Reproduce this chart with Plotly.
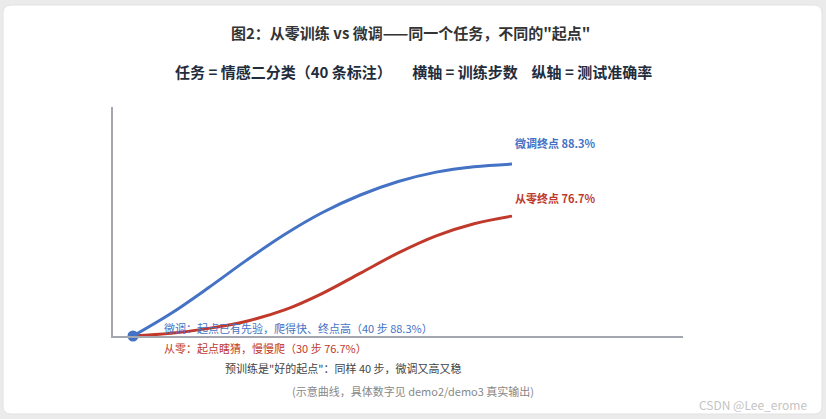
import plotly.graph_objects as go

# --- DATA ---
steps = [0, 4, 8, 12, 16, 20, 24, 28, 32, 36, 40]
acc_finetune = [50.0, 55.0, 60.8, 66.9, 72.6, 77.5, 81.4, 84.4, 86.5, 87.7, 88.3]
acc_scratch = [50.0, 50.6, 51.7, 53.3, 55.8, 59.5, 64.0, 68.5, 72.3, 75.0, 76.7]

BLUE = "#4472C4"
RED = "#C0392B"
AXIS = "#A3A6AE"
FONT = "Noto Sans CJK SC"

W, H = 826, 419
L, R, T, B = 113, 143, 107, 83
PW, PH = W - L - R, H - T - B


def px(x):
    return (x - L) / PW


def py(y):
    return (H - B - y) / PH


fig = go.Figure()

fig.add_trace(go.Scatter(x=steps, y=acc_scratch, mode="lines", cliponaxis=False,
                         line=dict(color=RED, width=3, shape="spline", smoothing=1.0), hoverinfo="skip"))
fig.add_trace(go.Scatter(x=steps, y=acc_finetune, mode="lines", cliponaxis=False,
                         line=dict(color=BLUE, width=3, shape="spline", smoothing=1.0), hoverinfo="skip"))
fig.add_trace(go.Scatter(x=[steps[0]], y=[acc_finetune[0]], mode="markers", cliponaxis=False,
                         marker=dict(color=BLUE, size=11), hoverinfo="skip"))

# white rounded card on grey page
x0, x1, y0, y1 = px(3), px(822), py(414), py(5)
rx, ry = 8 / PW, 8 / PH
card = (f"M {x0 + rx} {y1} L {x1 - rx} {y1} Q {x1} {y1} {x1} {y1 - ry} "
        f"L {x1} {y0 + ry} Q {x1} {y0} {x1 - rx} {y0} "
        f"L {x0 + rx} {y0} Q {x0} {y0} {x0} {y0 + ry} "
        f"L {x0} {y1 - ry} Q {x0} {y1} {x0 + rx} {y1} Z")
fig.add_shape(type="path", path=card, xref="paper", yref="paper", fillcolor="white",
              line=dict(color="#e2e2e2", width=1), layer="below")


def note(text, x, y, size=11, color="#333", bold=False, anchor="left"):
    if bold:
        text = f"<b>{text}</b>"
    fig.add_annotation(text=text, x=px(x), y=py(y), xref="paper", yref="paper", showarrow=False,
                       xanchor=anchor, yanchor="middle", font=dict(family=FONT, size=size, color=color))


note("图2：从零训练 vs 微调——同一个任务，不同的\"起点\"", 410, 32, size=15, color="#333", bold=True, anchor="center")
sp = "\u00a0"
note(f"任务 = 情感二分类（40 条标注）{sp * 6}横轴 = 训练步数{sp * 4}纵轴 = 测试准确率", 413, 71, size=15,
     color="#1f2d3d", bold=True, anchor="center")
note("微调终点 88.3%", 513, 143, color=BLUE, bold=True)
note("从零终点 76.7%", 513, 198, color=RED, bold=True)
note("微调：起点已有先验，爬得快、终点高（40 步 88.3%）", 162, 328, color=BLUE)
note("从零：起点瞎猜，慢慢爬（30 步 76.7%）", 162, 348, color=RED)
note("预训练是\"好的起点\"：同样 40 步，微调又高又稳", 343, 368, color="#444", anchor="center")
note("(示意曲线，具体数字见 demo2/demo3 真实输出)", 413, 391, color="#888", anchor="center")
note("CSDN @Lee_erome", 809, 404, size=12, color="#c4c4c4", anchor="right")

fig.update_xaxes(range=[-2.11, 58.05], showgrid=False, zeroline=False, showticklabels=False, ticks="",
                 showline=True, linecolor=AXIS, linewidth=2)
fig.update_yaxes(range=[50, 101], showgrid=False, zeroline=False, showticklabels=False, ticks="",
                 showline=True, linecolor=AXIS, linewidth=2)
fig.update_layout(width=W, height=H, margin=dict(l=L, r=R, t=T, b=B), showlegend=False,
                  paper_bgcolor="#ebebeb", plot_bgcolor="rgba(0,0,0,0)", font=dict(family=FONT))

# drop the default page margin so the figure sits at the top-left corner
fig.write_html("out.html", config={"displayModeBar": False},
               post_script="document.body.style.margin='0';")
